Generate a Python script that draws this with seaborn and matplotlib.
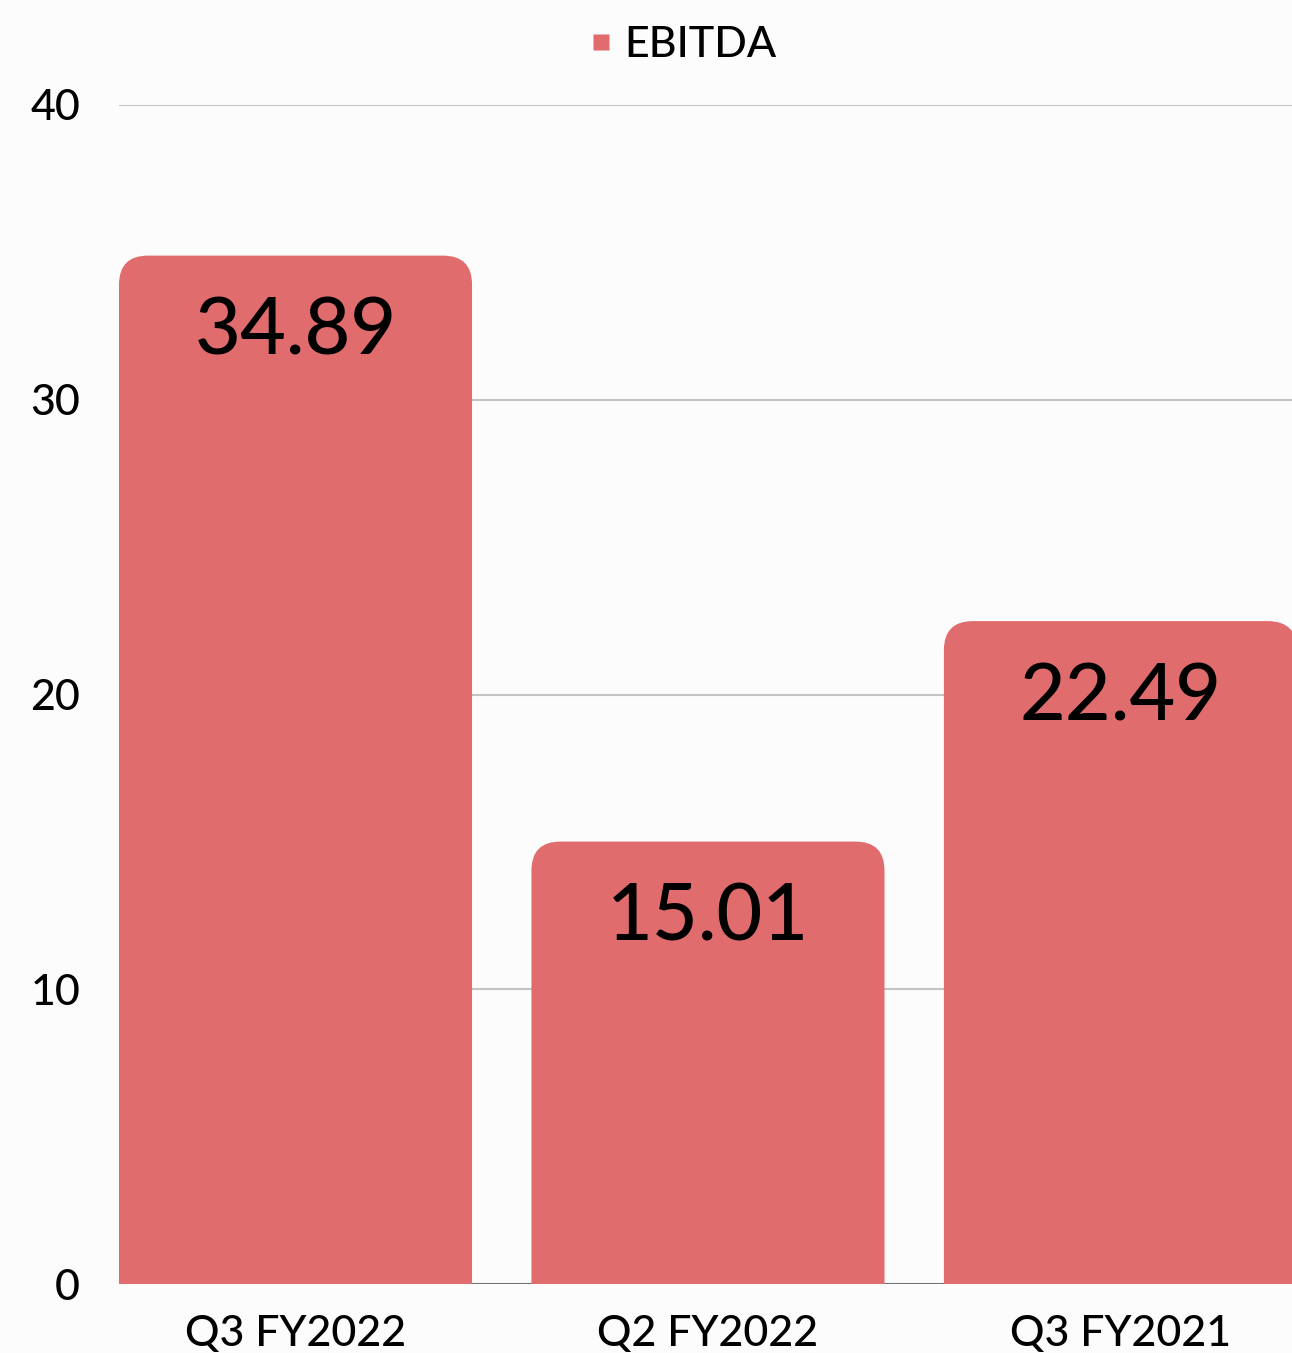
import matplotlib
matplotlib.use("Agg")
import matplotlib.pyplot as plt
from matplotlib.patches import FancyBboxPatch, Rectangle
from matplotlib.lines import Line2D
import seaborn as sns
import pandas as pd

quarters = ["Q3 FY2022", "Q2 FY2022", "Q3 FY2021"]
ebitda = [34.89, 15.01, 22.49]
y_ticks = [0, 10, 20, 30, 40]
series_name = "EBITDA"

BAR_COLOR = "#E06C6E"
BG = "#FCFCFC"

sns.set_theme(style="white")
plt.rcParams["font.family"] = ["Lato", "DejaVu Sans"]
plt.rcParams["font.weight"] = 500
plt.rcParams["text.color"] = "black"

df = pd.DataFrame({"quarter": quarters, "value": ebitda})

W, H = 1292, 1353
fig = plt.figure(figsize=(W / 100, H / 100), dpi=100, facecolor=BG)
ax = fig.add_axes([119 / W, 1 - 1284 / H, 1 - 119 / W, (1284 - 105) / H])
ax.set_facecolor(BG)

sns.barplot(data=df, x="quarter", y="value", color=BAR_COLOR, width=0.856,
            saturation=1, ax=ax, zorder=2)

ax.set_ylim(0, 40)
ax.set_xlim(-0.428, 2.416)

# replace plain rectangles with bars rounded at the top
px_x = (ax.get_xlim()[1] - ax.get_xlim()[0]) / (W - 119)
px_y = 40 / (1284 - 105)
radius_px = 29
for p in list(ax.patches):
    if not isinstance(p, Rectangle):
        continue
    x0, w, h = p.get_x(), p.get_width(), p.get_height()
    p.remove()
    extra = 2.0
    fb = FancyBboxPatch((x0, -extra), w, h + extra,
                        boxstyle=f"round,pad=0,rounding_size={radius_px * px_x}",
                        mutation_aspect=px_y / px_x,
                        facecolor=BAR_COLOR, edgecolor="none", zorder=2)
    ax.add_patch(fb)
    ax.text(x0 + w / 2, h - 41 * px_y, f"{h:.2f}", ha="center", va="top",
            fontsize=57, color="black", zorder=3)

ax.yaxis.grid(True, color="#C4C4C4", linewidth=1.5, zorder=0)
ax.set_axisbelow(True)
ax.set_yticks(y_ticks)
ax.axhline(0, color="#666666", linewidth=2, zorder=1)
ax.tick_params(axis="y", length=0, pad=28, labelsize=31, labelcolor="black")
ax.tick_params(axis="x", length=0, pad=22, labelsize=31, labelcolor="black")
ax.set_xlabel("")
ax.set_ylabel("")
for s in ax.spines.values():
    s.set_visible(False)

handle = Line2D([], [], marker="s", linestyle="none", markersize=11,
                markerfacecolor=BAR_COLOR, markeredgecolor="none")
fig.legend([handle], [series_name], loc="center", bbox_to_anchor=(680 / W, 1 - 45 / H),
           frameon=False, fontsize=31, handletextpad=0.15, handlelength=0.8,
           labelcolor="black")

fig.savefig("out.png", dpi=100, facecolor=BG)
